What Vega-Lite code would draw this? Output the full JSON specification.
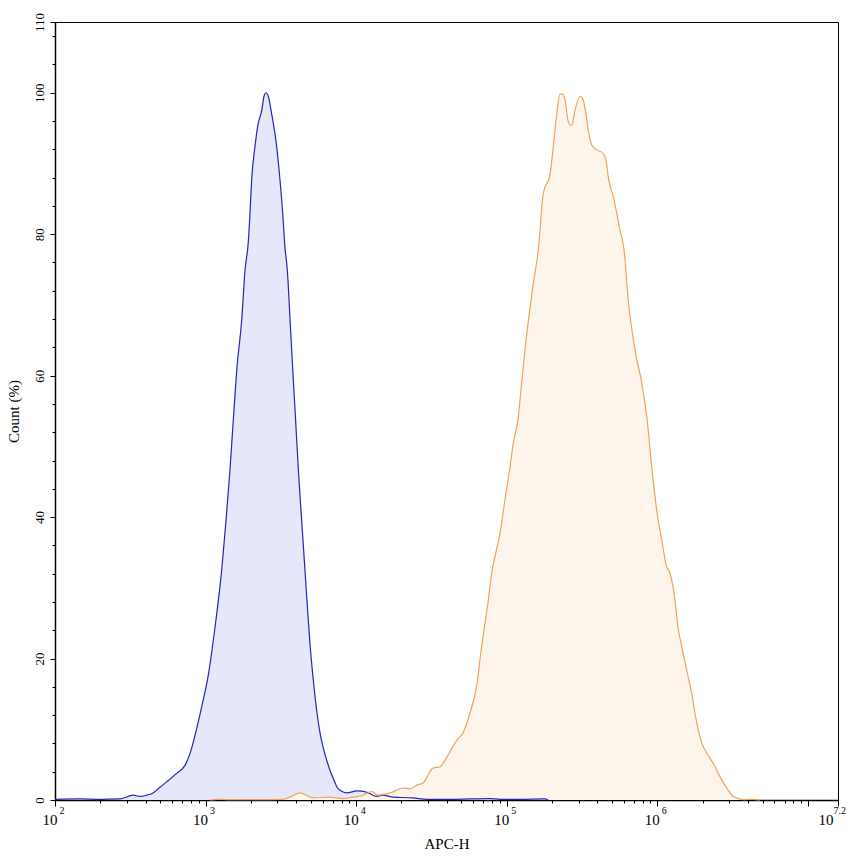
{
  "$schema": "https://vega.github.io/schema/vega-lite/v6.json",
  "description": "Flow cytometry histogram overlay, APC-H on a log scale against Count (%).",
  "width": 783,
  "height": 778,
  "autosize": {"type": "none"},
  "padding": {"left": 55, "top": 22, "right": 15, "bottom": 56},
  "data": {
    "values": [
      {"series": "Control", "log_apc": 2.000, "count": 0.1},
      {"series": "Control", "log_apc": 2.166, "count": 0.15},
      {"series": "Control", "log_apc": 2.299, "count": 0.1},
      {"series": "Control", "log_apc": 2.432, "count": 0.15},
      {"series": "Control", "log_apc": 2.485, "count": 0.5},
      {"series": "Control", "log_apc": 2.518, "count": 0.7},
      {"series": "Control", "log_apc": 2.564, "count": 0.5},
      {"series": "Control", "log_apc": 2.611, "count": 0.7},
      {"series": "Control", "log_apc": 2.651, "count": 1.0},
      {"series": "Control", "log_apc": 2.697, "count": 1.8},
      {"series": "Control", "log_apc": 2.744, "count": 2.6},
      {"series": "Control", "log_apc": 2.810, "count": 3.8},
      {"series": "Control", "log_apc": 2.863, "count": 4.9},
      {"series": "Control", "log_apc": 2.897, "count": 6.6},
      {"series": "Control", "log_apc": 2.943, "count": 10.3},
      {"series": "Control", "log_apc": 2.983, "count": 14},
      {"series": "Control", "log_apc": 3.016, "count": 17.4},
      {"series": "Control", "log_apc": 3.063, "count": 24.5},
      {"series": "Control", "log_apc": 3.107, "count": 32.5},
      {"series": "Control", "log_apc": 3.136, "count": 39.6},
      {"series": "Control", "log_apc": 3.162, "count": 46.7},
      {"series": "Control", "log_apc": 3.184, "count": 53.7},
      {"series": "Control", "log_apc": 3.207, "count": 60.8},
      {"series": "Control", "log_apc": 3.240, "count": 67.9},
      {"series": "Control", "log_apc": 3.262, "count": 74.9},
      {"series": "Control", "log_apc": 3.284, "count": 79},
      {"series": "Control", "log_apc": 3.295, "count": 83},
      {"series": "Control", "log_apc": 3.306, "count": 87.7},
      {"series": "Control", "log_apc": 3.328, "count": 92.4},
      {"series": "Control", "log_apc": 3.348, "count": 95.5},
      {"series": "Control", "log_apc": 3.373, "count": 97.5},
      {"series": "Control", "log_apc": 3.388, "count": 99.5},
      {"series": "Control", "log_apc": 3.401, "count": 100},
      {"series": "Control", "log_apc": 3.415, "count": 99.6},
      {"series": "Control", "log_apc": 3.439, "count": 97},
      {"series": "Control", "log_apc": 3.472, "count": 92.4},
      {"series": "Control", "log_apc": 3.494, "count": 87.7},
      {"series": "Control", "log_apc": 3.512, "count": 83},
      {"series": "Control", "log_apc": 3.527, "count": 78.2},
      {"series": "Control", "log_apc": 3.543, "count": 74.9},
      {"series": "Control", "log_apc": 3.561, "count": 67.9},
      {"series": "Control", "log_apc": 3.579, "count": 60.8},
      {"series": "Control", "log_apc": 3.598, "count": 53.7},
      {"series": "Control", "log_apc": 3.616, "count": 46.7},
      {"series": "Control", "log_apc": 3.638, "count": 39.6},
      {"series": "Control", "log_apc": 3.660, "count": 32.5},
      {"series": "Control", "log_apc": 3.677, "count": 27},
      {"series": "Control", "log_apc": 3.693, "count": 22.2},
      {"series": "Control", "log_apc": 3.720, "count": 16},
      {"series": "Control", "log_apc": 3.740, "count": 12.3},
      {"series": "Control", "log_apc": 3.760, "count": 9.5},
      {"series": "Control", "log_apc": 3.780, "count": 7.5},
      {"series": "Control", "log_apc": 3.806, "count": 5.5},
      {"series": "Control", "log_apc": 3.826, "count": 4.2},
      {"series": "Control", "log_apc": 3.853, "count": 2.8},
      {"series": "Control", "log_apc": 3.873, "count": 1.8},
      {"series": "Control", "log_apc": 3.906, "count": 1.2},
      {"series": "Control", "log_apc": 3.939, "count": 1.0},
      {"series": "Control", "log_apc": 4.006, "count": 1.3},
      {"series": "Control", "log_apc": 4.072, "count": 1.1},
      {"series": "Control", "log_apc": 4.138, "count": 0.5},
      {"series": "Control", "log_apc": 4.178, "count": 0.7},
      {"series": "Control", "log_apc": 4.245, "count": 0.4},
      {"series": "Control", "log_apc": 4.377, "count": 0.3},
      {"series": "Control", "log_apc": 4.470, "count": 0.1},
      {"series": "Control", "log_apc": 4.623, "count": 0.1},
      {"series": "Control", "log_apc": 4.756, "count": 0.15},
      {"series": "Control", "log_apc": 4.889, "count": 0.2},
      {"series": "Control", "log_apc": 4.955, "count": 0.1},
      {"series": "Control", "log_apc": 5.088, "count": 0.1},
      {"series": "Control", "log_apc": 5.254, "count": 0.15},
      {"series": "Control", "log_apc": 5.274, "count": 0},
      {"series": "Stained", "log_apc": 3.029, "count": 0},
      {"series": "Stained", "log_apc": 3.076, "count": 0.1},
      {"series": "Stained", "log_apc": 3.162, "count": 0.05},
      {"series": "Stained", "log_apc": 3.328, "count": 0.05},
      {"series": "Stained", "log_apc": 3.514, "count": 0.1},
      {"series": "Stained", "log_apc": 3.561, "count": 0.4},
      {"series": "Stained", "log_apc": 3.627, "count": 1.0},
      {"series": "Stained", "log_apc": 3.674, "count": 0.6},
      {"series": "Stained", "log_apc": 3.713, "count": 0.3},
      {"series": "Stained", "log_apc": 3.826, "count": 0.4},
      {"series": "Stained", "log_apc": 3.913, "count": 0.2},
      {"series": "Stained", "log_apc": 3.979, "count": 0.4},
      {"series": "Stained", "log_apc": 4.039, "count": 0.6},
      {"series": "Stained", "log_apc": 4.105, "count": 1.2},
      {"series": "Stained", "log_apc": 4.145, "count": 0.7},
      {"series": "Stained", "log_apc": 4.225, "count": 1.0},
      {"series": "Stained", "log_apc": 4.311, "count": 1.7},
      {"series": "Stained", "log_apc": 4.358, "count": 1.6},
      {"series": "Stained", "log_apc": 4.404, "count": 2.1},
      {"series": "Stained", "log_apc": 4.444, "count": 2.4},
      {"series": "Stained", "log_apc": 4.510, "count": 4.5},
      {"series": "Stained", "log_apc": 4.557, "count": 4.7},
      {"series": "Stained", "log_apc": 4.603, "count": 6.1},
      {"series": "Stained", "log_apc": 4.670, "count": 8.5},
      {"series": "Stained", "log_apc": 4.710, "count": 9.5},
      {"series": "Stained", "log_apc": 4.756, "count": 12.3},
      {"series": "Stained", "log_apc": 4.803, "count": 16.5},
      {"series": "Stained", "log_apc": 4.829, "count": 21},
      {"series": "Stained", "log_apc": 4.856, "count": 25},
      {"series": "Stained", "log_apc": 4.878, "count": 28.3},
      {"series": "Stained", "log_apc": 4.900, "count": 32.1},
      {"series": "Stained", "log_apc": 4.922, "count": 34.4},
      {"series": "Stained", "log_apc": 4.955, "count": 37.7},
      {"series": "Stained", "log_apc": 4.988, "count": 42.4},
      {"series": "Stained", "log_apc": 5.022, "count": 47.1},
      {"series": "Stained", "log_apc": 5.044, "count": 50.5},
      {"series": "Stained", "log_apc": 5.077, "count": 54.2},
      {"series": "Stained", "log_apc": 5.099, "count": 59},
      {"series": "Stained", "log_apc": 5.121, "count": 63.6},
      {"series": "Stained", "log_apc": 5.150, "count": 68.8},
      {"series": "Stained", "log_apc": 5.176, "count": 73},
      {"series": "Stained", "log_apc": 5.210, "count": 77.8},
      {"series": "Stained", "log_apc": 5.243, "count": 85.8},
      {"series": "Stained", "log_apc": 5.287, "count": 88.4},
      {"series": "Stained", "log_apc": 5.309, "count": 92.4},
      {"series": "Stained", "log_apc": 5.332, "count": 97},
      {"series": "Stained", "log_apc": 5.354, "count": 99.8},
      {"series": "Stained", "log_apc": 5.372, "count": 99.8},
      {"series": "Stained", "log_apc": 5.387, "count": 99},
      {"series": "Stained", "log_apc": 5.409, "count": 95.9},
      {"series": "Stained", "log_apc": 5.431, "count": 95.4},
      {"series": "Stained", "log_apc": 5.453, "count": 97.5},
      {"series": "Stained", "log_apc": 5.487, "count": 99.5},
      {"series": "Stained", "log_apc": 5.504, "count": 99.2},
      {"series": "Stained", "log_apc": 5.526, "count": 97},
      {"series": "Stained", "log_apc": 5.542, "count": 94.7},
      {"series": "Stained", "log_apc": 5.564, "count": 92.6},
      {"series": "Stained", "log_apc": 5.586, "count": 92.1},
      {"series": "Stained", "log_apc": 5.608, "count": 91.8},
      {"series": "Stained", "log_apc": 5.631, "count": 91.6},
      {"series": "Stained", "log_apc": 5.659, "count": 90.5},
      {"series": "Stained", "log_apc": 5.674, "count": 88.1},
      {"series": "Stained", "log_apc": 5.708, "count": 85.3},
      {"series": "Stained", "log_apc": 5.752, "count": 80.6},
      {"series": "Stained", "log_apc": 5.779, "count": 77.8},
      {"series": "Stained", "log_apc": 5.807, "count": 70.7},
      {"series": "Stained", "log_apc": 5.852, "count": 63.6},
      {"series": "Stained", "log_apc": 5.896, "count": 59},
      {"series": "Stained", "log_apc": 5.930, "count": 54.2},
      {"series": "Stained", "log_apc": 5.963, "count": 47.1},
      {"series": "Stained", "log_apc": 5.996, "count": 41},
      {"series": "Stained", "log_apc": 6.029, "count": 36.8},
      {"series": "Stained", "log_apc": 6.062, "count": 33},
      {"series": "Stained", "log_apc": 6.084, "count": 32.1},
      {"series": "Stained", "log_apc": 6.117, "count": 28.3},
      {"series": "Stained", "log_apc": 6.137, "count": 24.5},
      {"series": "Stained", "log_apc": 6.162, "count": 21.7},
      {"series": "Stained", "log_apc": 6.195, "count": 18.4},
      {"series": "Stained", "log_apc": 6.228, "count": 15.1},
      {"series": "Stained", "log_apc": 6.262, "count": 10.9},
      {"series": "Stained", "log_apc": 6.295, "count": 8.1},
      {"series": "Stained", "log_apc": 6.328, "count": 6.6},
      {"series": "Stained", "log_apc": 6.372, "count": 5.2},
      {"series": "Stained", "log_apc": 6.416, "count": 3.3},
      {"series": "Stained", "log_apc": 6.461, "count": 1.7},
      {"series": "Stained", "log_apc": 6.505, "count": 0.5},
      {"series": "Stained", "log_apc": 6.571, "count": 0.05},
      {"series": "Stained", "log_apc": 6.635, "count": 0.1},
      {"series": "Stained", "log_apc": 6.682, "count": 0}
    ]
  },
  "layer": [
    {
      "mark": {"type": "area", "interpolate": "monotone"},
      "encoding": {
        "x": {
          "field": "log_apc",
          "type": "quantitative",
          "scale": {"domain": [2, 7.2], "nice": false, "zero": false},
          "axis": {
            "orient": "bottom",
            "title": "APC-H",
            "values": [2, 3, 4, 5, 6, 7, 7.2],
            "labelExpr": "datum.value == 7 ? '' : '10'",
            "labelAlign": "right",
            "labelBaseline": "alphabetic",
            "labelFontSize": 15,
            "labelOffset": {"condition": {"test": "datum.value == 7.2", "value": -5}, "value": 2},
            "labelPadding": 18,
            "labelFlush": false,
            "labelOverlap": false,
            "tickSize": 6,
            "titlePadding": 9,
            "titleFontSize": 15,
            "grid": false,
            "encode": {"labels": {"update": {"fontSize": {"value": 15}}}}
          }
        },
        "y": {
          "field": "count",
          "type": "quantitative",
          "stack": null,
          "scale": {"domain": [0, 110], "nice": false},
          "axis": {
            "orient": "left",
            "title": "Count  (%)",
            "values": [0, 20, 40, 60, 80, 100, 110],
            "labelAngle": -90,
            "labelFontSize": 13,
            "labelFlush": false,
            "labelOverlap": false,
            "tickSize": 5,
            "labelPadding": 4,
            "titlePadding": 12,
            "titleFontSize": 15,
            "grid": false,
            "encode": {"labels": {"update": {"fontSize": {"value": 13}}}}
          }
        },
        "fill": {
          "field": "series",
          "type": "nominal",
          "scale": {"domain": ["Stained", "Control"], "range": ["#fdf5ec", "#e6e7fb"]},
          "legend": null
        }
      }
    },
    {
      "mark": {"type": "line", "interpolate": "monotone", "strokeWidth": 1.2},
      "encoding": {
        "x": {
          "field": "log_apc",
          "type": "quantitative",
          "axis": {
            "orient": "bottom",
            "values": [2.301, 2.477, 2.602, 2.699, 2.778, 2.845, 2.903, 2.954, 3.301, 3.477, 3.602, 3.699, 3.778, 3.845, 3.903, 3.954, 4.301, 4.477, 4.602, 4.699, 4.778, 4.845, 4.903, 4.954, 5.301, 5.477, 5.602, 5.699, 5.778, 5.845, 5.903, 5.954, 6.301, 6.477, 6.602, 6.699, 6.778, 6.845, 6.903, 6.954],
            "labels": false,
            "domain": false,
            "tickSize": 3,
            "title": null,
            "grid": false
          }
        },
        "y": {
          "field": "count",
          "type": "quantitative",
          "axis": {
            "orient": "left",
            "values": [4, 8, 12, 16, 24, 28, 32, 36, 44, 48, 52, 56, 64, 68, 72, 76, 84, 88, 92, 96, 104, 108],
            "labels": false,
            "domain": false,
            "tickSize": 3,
            "title": null,
            "grid": false
          }
        },
        "stroke": {
          "field": "series",
          "type": "nominal",
          "scale": {"domain": ["Stained", "Control"], "range": ["#f0a25c", "#2424b8"]},
          "legend": null
        }
      }
    },
    {
      "mark": {"type": "point", "opacity": 0, "size": 0},
      "encoding": {
        "x": {
          "field": "log_apc",
          "type": "quantitative",
          "axis": {
            "orient": "bottom",
            "values": [2, 3, 4, 5, 6, 7.2],
            "labelExpr": "datum.value == 7.2 ? '7.2' : format(datum.value, 'd')",
            "labelAlign": "left",
            "labelBaseline": "alphabetic",
            "labelFontSize": 10,
            "labelOffset": {"condition": {"test": "datum.value == 7.2", "value": -5}, "value": 4},
            "labelPadding": 13,
            "labelFlush": false,
            "labelOverlap": false,
            "ticks": false,
            "domain": false,
            "title": null,
            "grid": false,
            "encode": {"labels": {"update": {"fontSize": {"value": 10}}}}
          }
        },
        "y": {"field": "count", "type": "quantitative", "axis": null}
      }
    }
  ],
  "resolve": {"axis": {"x": "independent", "y": "independent"}},
  "config": {
    "view": {"stroke": "#000000", "strokeWidth": 1},
    "axis": {
      "domainColor": "#000000",
      "tickColor": "#000000",
      "labelColor": "#000000",
      "titleColor": "#000000",
      "labelFont": "Liberation Serif",
      "titleFont": "Liberation Serif",
      "labelFontSize": 13,
      "titleFontSize": 14,
      "titleFontWeight": "normal",
      "domainWidth": 1.5,
      "tickWidth": 1
    }
  }
}
